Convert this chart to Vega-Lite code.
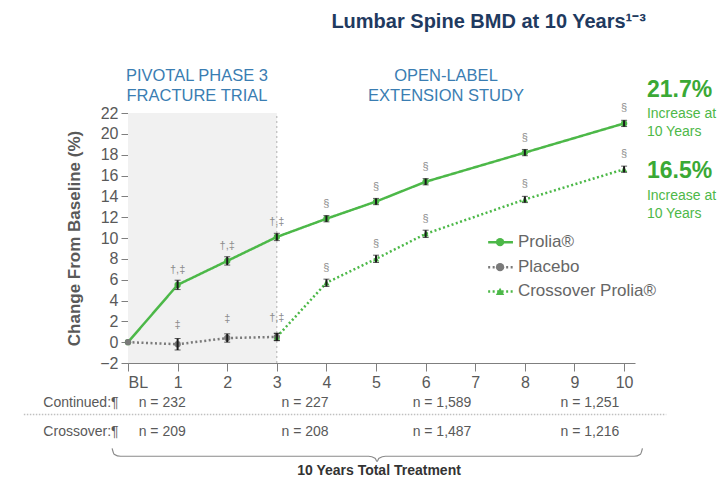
{
  "$schema": "https://vega.github.io/schema/vega-lite/v6.json",
  "width": 507,
  "height": 250,
  "autosize": "none",
  "padding": {"left": 128, "top": 113, "right": 88, "bottom": 118},
  "background": "white",
  "config": {"view": {"stroke": null}, "font": "Liberation Sans", "text": {"font": "Liberation Sans"},
             "axis": {"labelOverlap": false, "labelBound": false, "grid": false},
             "axisY": {"tickCount": 12},
             "axisX": {"tickCount": 10}},
  "datasets": {
    "pts": [
      {"series": "Prolia", "year": 0, "value": 0, "lo": 0, "hi": 0, "ann": ""},
      {"series": "Prolia", "year": 1, "value": 5.5, "lo": 5.05, "hi": 5.95, "ann": "†,‡"},
      {"series": "Prolia", "year": 2, "value": 7.8, "lo": 7.4, "hi": 8.2, "ann": "†,‡"},
      {"series": "Prolia", "year": 3, "value": 10.1, "lo": 9.75, "hi": 10.45, "ann": "†,‡"},
      {"series": "Prolia", "year": 4, "value": 11.85, "lo": 11.55, "hi": 12.15, "ann": "§"},
      {"series": "Prolia", "year": 5, "value": 13.5, "lo": 13.2, "hi": 13.8, "ann": "§"},
      {"series": "Prolia", "year": 6, "value": 15.4, "lo": 15.1, "hi": 15.7, "ann": "§"},
      {"series": "Prolia", "year": 8, "value": 18.2, "lo": 17.9, "hi": 18.5, "ann": "§"},
      {"series": "Prolia", "year": 10, "value": 21.0, "lo": 20.7, "hi": 21.3, "ann": "§"},
      {"series": "Placebo", "year": 0, "value": 0, "lo": 0, "hi": 0, "ann": ""},
      {"series": "Placebo", "year": 1, "value": -0.2, "lo": -0.75, "hi": 0.35, "ann": "‡"},
      {"series": "Placebo", "year": 2, "value": 0.4, "lo": 0.0, "hi": 0.8, "ann": "‡"},
      {"series": "Placebo", "year": 3, "value": 0.5, "lo": 0.15, "hi": 0.85, "ann": "†,‡"},
      {"series": "Crossover", "year": 3, "value": 0.5, "lo": 0.15, "hi": 0.85, "ann": ""},
      {"series": "Crossover", "year": 4, "value": 5.7, "lo": 5.35, "hi": 6.05, "ann": "§"},
      {"series": "Crossover", "year": 5, "value": 8.0, "lo": 7.65, "hi": 8.35, "ann": "§"},
      {"series": "Crossover", "year": 6, "value": 10.4, "lo": 10.05, "hi": 10.75, "ann": "§"},
      {"series": "Crossover", "year": 8, "value": 13.7, "lo": 13.4, "hi": 14.0, "ann": "§"},
      {"series": "Crossover", "year": 10, "value": 16.6, "lo": 16.3, "hi": 16.9, "ann": "§"}
    ],
    "legendLines": [
      {"series": "Prolia", "x": 7.26, "y": 9.6},
      {"series": "Prolia", "x": 7.76, "y": 9.6},
      {"series": "Placebo", "x": 7.26, "y": 7.2},
      {"series": "Placebo", "x": 7.76, "y": 7.2},
      {"series": "Crossover", "x": 7.26, "y": 4.87},
      {"series": "Crossover", "x": 7.76, "y": 4.87}
    ],
    "legendItems": [
      {"series": "Prolia", "x": 7.5, "tx": 7.86, "y": 9.6, "label": "Prolia®"},
      {"series": "Placebo", "x": 7.5, "tx": 7.86, "y": 7.2, "label": "Placebo"},
      {"series": "Crossover", "x": 7.5, "tx": 7.86, "y": 4.87, "label": "Crossover Prolia®"}
    ]
  },
  "layer": [
    {
      "data": {"values": [{"x": 0, "x2": 3, "y": -2, "y2": 22}]},
      "mark": {"type": "rect", "fill": "#f1f1f1"},
      "encoding": {
        "x": {"field": "x", "type": "quantitative", "scale": {"domain": [0, 10.22], "nice": false, "zero": false},
              "axis": {"labelExpr": "datum.value == 0 ? 'BL' : datum.label", "title": null,
                       "labelFontSize": 16, "labelColor": "#595959", "tickSize": 8, "tickColor": "#7f7f7f", "domainColor": "#7f7f7f", "labelPadding": 3}},
        "x2": {"field": "x2"},
        "y": {"field": "y", "type": "quantitative", "scale": {"domain": [-2, 22], "nice": false, "zero": false},
              "title": "Change From Baseline (%)",
              "axis": {"title": "Change From Baseline (%)",
                       "titleFontSize": 17, "titleFontWeight": "bold", "titleColor": "#595959", "titlePadding": 16,
                       "labelFontSize": 16, "labelColor": "#595959", "tickSize": 7, "tickColor": "#7f7f7f", "domainColor": "#7f7f7f", "labelPadding": 3, "labelExpr": "replace(datum.label, '-', '−')"}},
        "y2": {"field": "y2"}
      }
    },
    {
      "data": {"values": [{"x": 3, "y": -2, "y2": 22}]},
      "mark": {"type": "rule", "stroke": "#b0b0b0", "strokeDash": [2, 3], "strokeWidth": 1},
      "encoding": {"x": {"field": "x", "type": "quantitative"}, "y": {"field": "y", "type": "quantitative"}, "y2": {"field": "y2"}}
    },
    {
      "data": {"name": "pts"},
      "mark": {"type": "line", "strokeWidth": 2.5},
      "encoding": {
        "x": {"field": "year", "type": "quantitative"},
        "y": {"field": "value", "type": "quantitative", "title": "Change From Baseline (%)"},
        "color": {"field": "series", "type": "nominal", "scale": {"domain": ["Prolia", "Placebo", "Crossover"], "range": ["#4cb848", "#7a7a7a", "#4cb848"]}, "legend": null},
        "strokeDash": {"field": "series", "type": "nominal", "scale": {"domain": ["Prolia", "Placebo", "Crossover"], "range": [[1, 0], [2, 2.5], [2, 2.5]]}, "legend": null},
        "order": {"field": "year"}
      }
    },
    {
      "data": {"name": "pts"},
      "mark": {"type": "point", "filled": true, "opacity": 1, "size": 40},
      "encoding": {
        "x": {"field": "year", "type": "quantitative"},
        "y": {"field": "value", "type": "quantitative", "title": "Change From Baseline (%)"},
        "color": {"field": "series", "type": "nominal", "legend": null},
        "shape": {"field": "series", "type": "nominal", "scale": {"domain": ["Prolia", "Placebo", "Crossover"], "range": ["circle", "circle", "triangle-up"]}, "legend": null}
      }
    },
    {
      "data": {"name": "pts"},
      "transform": [{"filter": "datum.year > 0"}],
      "mark": {"type": "errorbar", "ticks": {"size": 6, "color": "#1a1a1a", "strokeWidth": 1.5}, "rule": {"color": "#1a1a1a", "strokeWidth": 2}},
      "encoding": {
        "x": {"field": "year", "type": "quantitative"},
        "y": {"field": "lo", "type": "quantitative", "title": "Change From Baseline (%)"},
        "y2": {"field": "hi"}
      }
    },
    {
      "data": {"name": "pts"},
      "transform": [{"filter": "datum.series != 'Placebo' && datum.ann != ''"}],
      "mark": {"type": "text", "dy": -15, "fontSize": 11, "color": "#8c8c8c"},
      "encoding": {
        "x": {"field": "year", "type": "quantitative"},
        "y": {"field": "value", "type": "quantitative", "title": "Change From Baseline (%)"},
        "text": {"field": "ann"}
      }
    },
    {
      "data": {"name": "pts"},
      "transform": [{"filter": "datum.series == 'Placebo' && datum.ann != ''"}],
      "mark": {"type": "text", "dy": -19, "fontSize": 11, "color": "#8c8c8c"},
      "encoding": {
        "x": {"field": "year", "type": "quantitative"},
        "y": {"field": "value", "type": "quantitative", "title": "Change From Baseline (%)"},
        "text": {"field": "ann"}
      }
    },
    {
      "data": {"name": "legendLines"},
      "mark": {"type": "line", "strokeWidth": 2.5},
      "encoding": {
        "x": {"field": "x", "type": "quantitative"},
        "y": {"field": "y", "type": "quantitative", "title": "Change From Baseline (%)"},
        "color": {"field": "series", "type": "nominal", "legend": null},
        "strokeDash": {"field": "series", "type": "nominal", "legend": null}
      }
    },
    {
      "data": {"name": "legendItems"},
      "mark": {"type": "point", "filled": true, "opacity": 1, "size": 70},
      "encoding": {
        "x": {"field": "x", "type": "quantitative"},
        "y": {"field": "y", "type": "quantitative", "title": "Change From Baseline (%)"},
        "color": {"field": "series", "type": "nominal", "legend": null},
        "shape": {"field": "series", "type": "nominal", "legend": null}
      }
    },
    {
      "data": {"name": "legendItems"},
      "mark": {"type": "text", "align": "left", "baseline": "middle", "fontSize": 17, "color": "#666666"},
      "encoding": {
        "x": {"field": "tx", "type": "quantitative"},
        "y": {"field": "y", "type": "quantitative", "title": "Change From Baseline (%)"},
        "text": {"field": "label"}
      }
    },
    {
      "data": {"values": [{"x": 7.27, "y": 30.7, "t": "Lumbar Spine BMD at 10 Years¹⁻³"}]},
      "mark": {"type": "text", "align": "center", "baseline": "middle", "fontSize": 20, "fontWeight": "bold", "color": "#1f3a60"},
      "encoding": {"x": {"field": "x", "type": "quantitative"}, "y": {"field": "y", "type": "quantitative", "title": "Change From Baseline (%)"}, "text": {"field": "t"}}
    },
    {
      "data": {"values": [
        {"x": 1.39, "y": 25.6, "t": "PIVOTAL PHASE 3"},
        {"x": 1.39, "y": 23.6, "t": "FRACTURE TRIAL"},
        {"x": 6.41, "y": 25.6, "t": "OPEN-LABEL"},
        {"x": 6.41, "y": 23.6, "t": "EXTENSION STUDY"}
      ]},
      "mark": {"type": "text", "align": "center", "baseline": "middle", "fontSize": 16.5, "color": "#3a7db2"},
      "encoding": {"x": {"field": "x", "type": "quantitative"}, "y": {"field": "y", "type": "quantitative", "title": "Change From Baseline (%)"}, "text": {"field": "t"}}
    },
    {
      "data": {"values": [
        {"x": 10.46, "y": 24.2, "t": "21.7%"},
        {"x": 10.46, "y": 16.4, "t": "16.5%"}
      ]},
      "mark": {"type": "text", "align": "left", "baseline": "middle", "fontSize": 23, "fontWeight": "bold", "color": "#3aa935"},
      "encoding": {"x": {"field": "x", "type": "quantitative"}, "y": {"field": "y", "type": "quantitative", "title": "Change From Baseline (%)"}, "text": {"field": "t"}}
    },
    {
      "data": {"values": [
        {"x": 10.46, "y": 21.9, "t": "Increase at"},
        {"x": 10.46, "y": 20.2, "t": "10 Years"},
        {"x": 10.46, "y": 14.0, "t": "Increase at"},
        {"x": 10.46, "y": 12.3, "t": "10 Years"}
      ]},
      "mark": {"type": "text", "align": "left", "baseline": "middle", "fontSize": 14, "color": "#4db848"},
      "encoding": {"x": {"field": "x", "type": "quantitative"}, "y": {"field": "y", "type": "quantitative", "title": "Change From Baseline (%)"}, "text": {"field": "t"}}
    },
    {
      "data": {"values": [
        {"x": -0.19, "y": -5.85, "t": "Continued:¶"},
        {"x": -0.19, "y": -8.65, "t": "Crossover:¶"}
      ]},
      "mark": {"type": "text", "align": "right", "baseline": "middle", "fontSize": 14, "color": "#595959"},
      "encoding": {"x": {"field": "x", "type": "quantitative"}, "y": {"field": "y", "type": "quantitative", "title": "Change From Baseline (%)"}, "text": {"field": "t"}}
    },
    {
      "data": {"values": [
        {"x": 0.69, "y": -5.85, "t": "n = 232"},
        {"x": 3.57, "y": -5.85, "t": "n = 227"},
        {"x": 6.33, "y": -5.85, "t": "n = 1,589"},
        {"x": 9.31, "y": -5.85, "t": "n = 1,251"},
        {"x": 0.69, "y": -8.65, "t": "n = 209"},
        {"x": 3.57, "y": -8.65, "t": "n = 208"},
        {"x": 6.33, "y": -8.65, "t": "n = 1,487"},
        {"x": 9.31, "y": -8.65, "t": "n = 1,216"}
      ]},
      "mark": {"type": "text", "align": "center", "baseline": "middle", "fontSize": 14, "color": "#595959"},
      "encoding": {"x": {"field": "x", "type": "quantitative"}, "y": {"field": "y", "type": "quantitative", "title": "Change From Baseline (%)"}, "text": {"field": "t"}}
    },
    {
      "data": {"values": [{"x": -2.1, "x2": 10.85, "y": -6.95}]},
      "mark": {"type": "rule", "stroke": "#c0c0c0", "strokeDash": [1.5, 1.5], "strokeWidth": 1.5},
      "encoding": {"x": {"field": "x", "type": "quantitative"}, "x2": {"field": "x2"}, "y": {"field": "y", "type": "quantitative", "title": "Change From Baseline (%)"}}
    },
    {
      "data": {"values": [
        {"i": 0, "x": -0.32, "y": -10.2},
        {"i": 1, "x": -0.28, "y": -10.75},
        {"i": 2, "x": -0.15, "y": -10.95},
        {"i": 3, "x": 4.85, "y": -10.95},
        {"i": 4, "x": 4.98, "y": -11.15},
        {"i": 5, "x": 5.02, "y": -11.45},
        {"i": 6, "x": 5.06, "y": -11.15},
        {"i": 7, "x": 5.19, "y": -10.95},
        {"i": 8, "x": 10.2, "y": -10.95},
        {"i": 9, "x": 10.33, "y": -10.75},
        {"i": 10, "x": 10.37, "y": -10.2}
      ]},
      "mark": {"type": "line", "stroke": "#8a8a8a", "strokeWidth": 1.2, "interpolate": "monotone"},
      "encoding": {"x": {"field": "x", "type": "quantitative"}, "y": {"field": "y", "type": "quantitative", "title": "Change From Baseline (%)"}, "order": {"field": "i"}}
    },
    {
      "data": {"values": [{"x": 5.06, "y": -12.4, "t": "10 Years Total Treatment"}]},
      "mark": {"type": "text", "align": "center", "baseline": "middle", "fontSize": 14, "fontWeight": "bold", "color": "#333333"},
      "encoding": {"x": {"field": "x", "type": "quantitative"}, "y": {"field": "y", "type": "quantitative", "title": "Change From Baseline (%)"}, "text": {"field": "t"}}
    }
  ]
}
